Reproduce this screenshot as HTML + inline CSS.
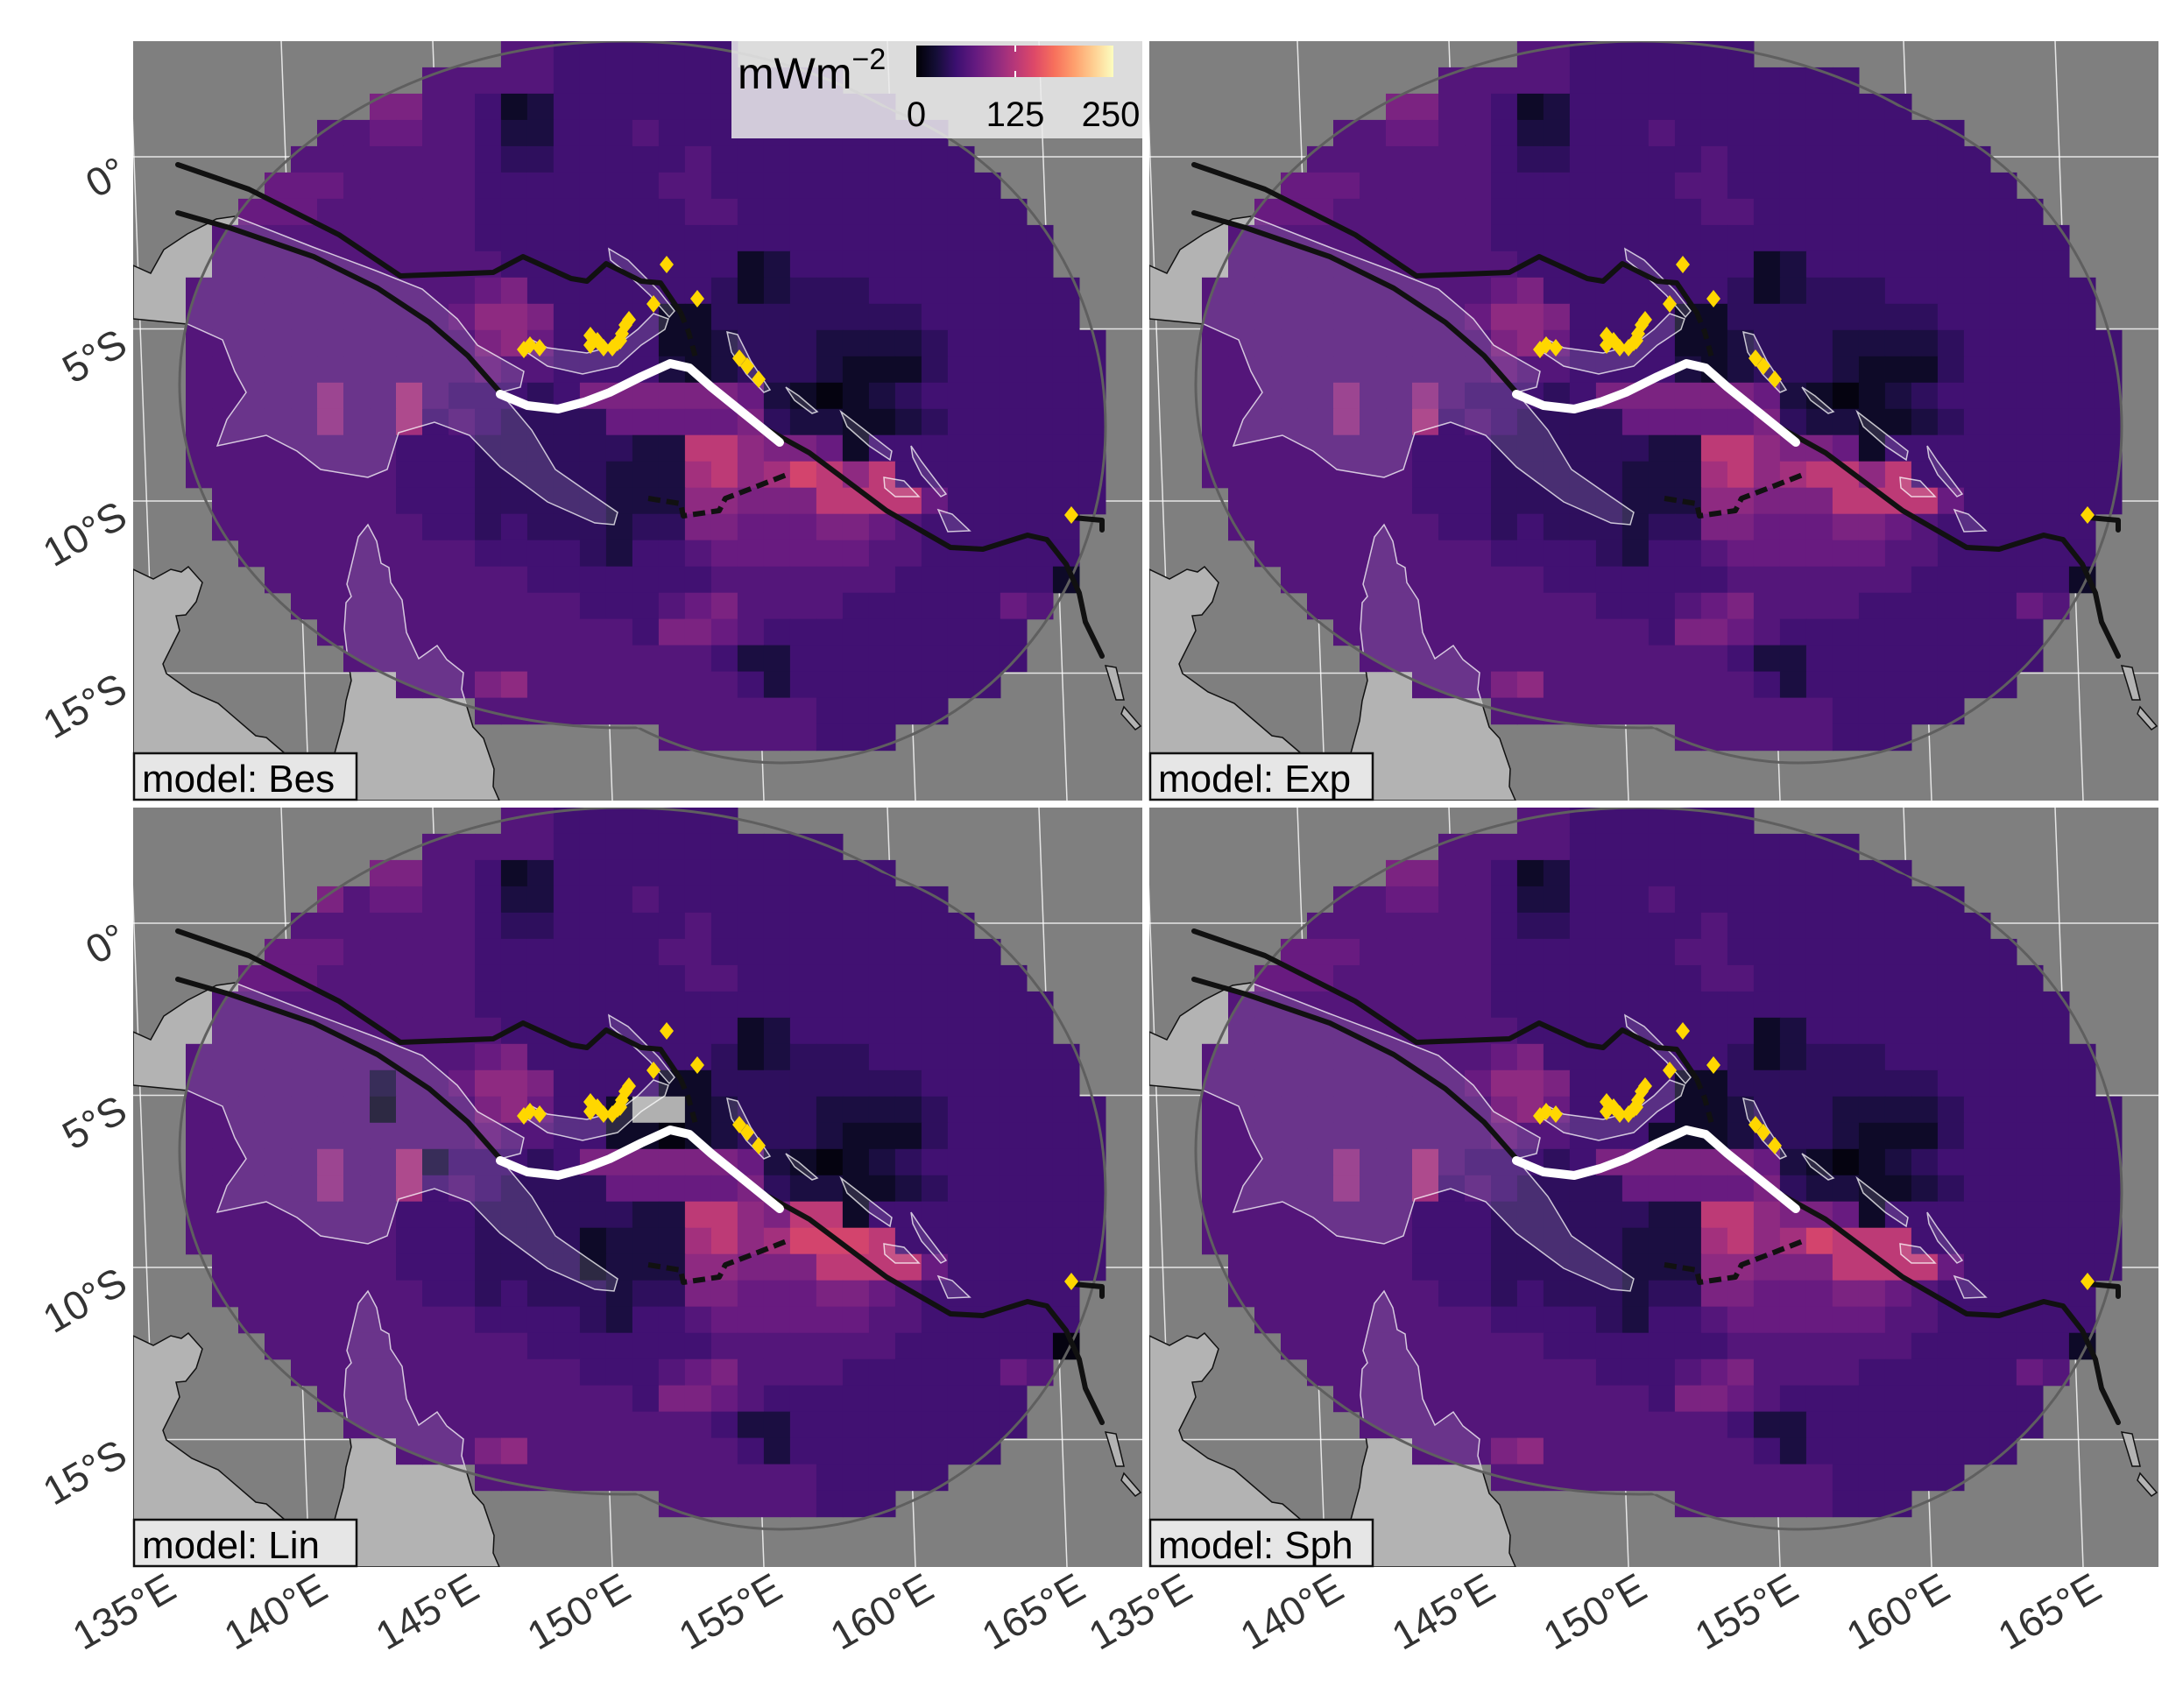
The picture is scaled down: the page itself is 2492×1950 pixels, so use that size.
<!DOCTYPE html>
<html><head><meta charset="utf-8"><title>Heat flow models</title>
<style>html,body{margin:0;padding:0;background:#fff}svg{display:block}text{font-family:"Liberation Sans",Arial,sans-serif}</style>
</head><body>
<svg id="chart" xmlns="http://www.w3.org/2000/svg" width="2492" height="1950" viewBox="0 0 2492 1950">
<rect x="0" y="0" width="2492" height="1950" fill="#ffffff"/>
<defs>
<clipPath id="panelClip"><rect x="0" y="0" width="1152" height="867"/></clipPath>
<clipPath id="maskClip"><ellipse cx="560" cy="392" rx="507" ry="392"/><ellipse cx="741" cy="440" rx="369" ry="384"/></clipPath>
<mask id="outsideB"><rect x="-50" y="-50" width="1300" height="1000" fill="#fff"/><ellipse cx="741" cy="440" rx="369" ry="384" fill="#000"/></mask>
<mask id="outsideA"><rect x="-50" y="-50" width="1300" height="1000" fill="#fff"/><ellipse cx="560" cy="392" rx="507" ry="392" fill="#000"/></mask>
<linearGradient id="magmaGrad" x1="0" x2="1" y1="0" y2="0">
<stop offset="0" stop-color="#000004"/><stop offset="0.1" stop-color="#140e36"/><stop offset="0.2" stop-color="#3b0f70"/><stop offset="0.3" stop-color="#641a80"/><stop offset="0.4" stop-color="#8c2981"/><stop offset="0.5" stop-color="#b73779"/><stop offset="0.6" stop-color="#de4968"/><stop offset="0.7" stop-color="#f7705c"/><stop offset="0.8" stop-color="#fe9f6d"/><stop offset="0.9" stop-color="#fecf92"/><stop offset="1" stop-color="#fcfdbf"/>
</linearGradient>
</defs>
<g id="panels"></g>
<g id="legend">
<rect x="835" y="47" width="469" height="111" fill="rgba(236,236,236,0.85)"/>
<text x="842" y="101" font-size="50" fill="#000">mWm<tspan dy="-22" font-size="34">−2</tspan></text>
<rect x="1046" y="52" width="225" height="36" fill="url(#magmaGrad)"/>
<line x1="1159" y1="52" x2="1159" y2="59" stroke="#fff" stroke-width="2"/>
<line x1="1159" y1="81" x2="1159" y2="88" stroke="#fff" stroke-width="2"/>
<text x="1046" y="144" font-size="40" text-anchor="middle" fill="#000">0</text>
<text x="1159" y="144" font-size="40" text-anchor="middle" fill="#000">125</text>
<text x="1268" y="144" font-size="40" text-anchor="middle" fill="#000">250</text>
</g>
<g id="axes"></g>
</svg>
<script>
const models = ['Bes','Exp','Lin','Sph'];
const latTicks = [0,-5,-10,-15];
const latTickLabels = ['0°','5°S','10°S','15°S'];
const lonTicks = [135,140,145,150,155,160,165];
const lonTickLabels = ['135°E','140°E','145°E','150°E','155°E','160°E','165°E'];
const rowsBes = [
"55555555555555554444444444444444444444",
"55555555555555554444444444444444444444",
"55555555577554124444444444444444444444",
"55555555566554224445444444444444444444",
"55555555555554334444454444444444444444",
"55566666555554444444554444444444444444",
"55566665555554444444455444444444444444",
"55555555555554444444444444444444444444",
"55555555555555444444444124444444444444",
"55555555555556744444443123334444444444",
"55555555555568874444113333333344444444",
"55555555555557864444112333222234444444",
"55555555555556554444212333211134444444",
"55555558559544434777777621012344444444",
"55555558559454333366666732211234444444",
"555555555544433333322aa877614444444444",
"5555555555444333332229a89ba8a444444444",
"55555555554443333322288777aaaa64444444",
"55555555555443433323377666776544444444",
"55555555555554444324456666665544444444",
"55555555555555544444445555555444444144",
"55555555555555555444567555544444465444",
"55555555555555555554776544444444441444",
"55555555555555555555554224444444444444",
"55555555555557855555555424444444444444",
"55555555555555555555555555444444444444",
"55555555555555555555555555444444444444",
"55555555555555555555555555444444444444",
"55555555555555555555555555444444444444"
];
const overridesExp = [[13,10,'8'],[16,25,'a'],[9,13,'6']];
const overridesLin = [[11,19,'n'],[11,20,'n'],[12,19,'1'],[12,20,'0'],[12,18,'1'],[11,18,'1'],[11,9,'1'],[10,9,'2'],[15,25,'a'],[15,26,'a'],[16,27,'b'],[16,28,'a'],[17,29,'a'],[16,26,'b'],[20,35,'0'],[16,17,'1'],[17,17,'1'],[3,7,'7'],[13,11,'2']];
const overridesSph = [[12,19,'1'],[12,20,'1'],[16,27,'a'],[17,28,'a']];
const overrides = {Bes:[], Exp:overridesExp, Lin:overridesLin, Sph:overridesSph};

const NS='http://www.w3.org/2000/svg';
const PW=1152, PH=867;
const panelPos = [[152,47],[1312,47],[152,922],[1312,922]];
const LAT_BOTTOM=-18.7, LAT_TOP=3.36;
function xProj(lon,lat){return 547+(lon-150)*34.6-1.45*(lat-LAT_BOTTOM);}
function yProj(lat){return 132-lat*39.3;}
function xCell(lon){return 547+(lon-150)*34.6;}
const lonStart=134.19, dLon=0.867, dLat=0.763;
const vmax=252;
const magma=['#000004','#140e36','#3b0f70','#641a80','#8c2981','#b73779','#de4968','#f7705c','#fe9f6d','#fecf92','#fcfdbf'];
function hex(c){return [parseInt(c.slice(1,3),16),parseInt(c.slice(3,5),16),parseInt(c.slice(5,7),16)];}
function color(v){let t=Math.max(0,Math.min(1,v/vmax))*10;let i=Math.min(9,Math.floor(t));let f=t-i;let a=hex(magma[i]),b=hex(magma[i+1]);return 'rgb('+a.map((x,k)=>Math.round(x+(b[k]-x)*f)).join(',')+')';}
function level(ch){const d=parseInt(ch,16);if(d===10)return 130;if(d===11)return 144;return d*12+6;}
function inMask(x,y){const a=((x-560)/507)**2+((y-392)/392)**2;const b=((x-741)/369)**2+((y-440)/384)**2;return a<=1||b<=1;}
function el(tag,attrs){const e=document.createElementNS(NS,tag);for(const k in attrs)e.setAttribute(k,attrs[k]);return e;}
function pts(a){return a.map(p=>p.join(',')).join(' ');}

const landNG=[[0,256],[20,265],[35,238],[62,220],[95,203],[116,200],[205,235],[277,262],[330,283],[370,317],[393,347],[446,377],[442,395],[419,401],[455,444],[482,489],[518,514],[553,538],[549,552],[527,550],[473,526],[419,486],[384,450],[344,435],[303,447],[290,489],[268,498],[214,489],[187,468],[152,450],[96,462],[107,432],[129,401],[116,377],[102,341],[62,323],[0,317]];
const landAus=[[0,603],[23,614],[43,603],[55,606],[63,600],[79,618],[72,640],[60,655],[49,656],[53,673],[34,711],[38,722],[67,743],[97,756],[140,793],[152,795],[173,813],[200,830],[230,813],[240,776],[243,753],[249,730],[245,705],[241,671],[243,641],[249,634],[244,620],[257,566],[268,552],[278,571],[283,596],[292,601],[294,618],[307,638],[312,675],[326,705],[347,690],[358,706],[377,721],[375,740],[388,783],[400,796],[412,831],[411,851],[418,867],[0,867]];
const islands=[
[[446,353],[473,371],[513,380],[553,371],[580,347],[607,329],[611,317],[594,311],[576,329],[553,347],[518,356],[473,350],[455,341]],
[[543,237],[565,250],[600,285],[618,308],[612,315],[590,290],[560,262],[545,250]],
[[678,332],[690,335],[705,365],[727,398],[720,401],[700,380],[683,355]],
[[745,395],[760,405],[781,423],[775,425],[755,410]],
[[808,423],[830,440],[866,468],[864,478],[840,462],[815,440]],
[[888,462],[900,480],[928,517],[922,520],[900,495],[890,475]],
[[857,498],[880,502],[897,520],[870,520],[858,510]],
[[919,535],[935,540],[955,559],[930,560]],
[[1110,713],[1122,715],[1131,752],[1122,752]],
[[1131,760],[1150,782],[1144,786],[1128,768]]
];
const lineA=[[51,141],[132,169],[235,221],[305,268],[411,264],[445,246],[500,271],[518,274],[540,254],[580,274],[602,276],[625,310]];
const lineAdash=[[625,310],[634,332],[643,365]];
const lineB=[[51,196],[110,213],[206,246],[279,282],[338,321],[382,359],[419,401]];
const lineWhite=[[419,403],[450,416],[485,420],[515,412],[544,401],[580,383],[613,368],[635,373],[660,395],[691,420],[738,458]];
const lineC=[[716,439],[772,470],[816,503],[860,536],[933,578],[970,580],[1021,564],[1043,569],[1065,597],[1080,630],[1087,663],[1106,702]];
const lineDash=[[588,522],[625,528],[628,542],[669,536],[676,522],[705,511],[746,495]];
const lineR=[[1073,544],[1106,547],[1106,558]];
const diamonds=[[609,255],[644,294],[594,300],[562,324],[566,318],[558,334],[553,344],[556,342],[547,350],[537,350],[522,336],[522,347],[530,342],[453,347],[464,350],[446,352],[692,362],[701,371],[714,386],[1071,541]];

const panelsG=document.getElementById('panels');
models.forEach((m,pi)=>{
  const [px,py]=panelPos[pi];
  const g=el('g',{transform:'translate('+px+','+py+')'});
  
  
  const inner=el('g',{'clip-path':'url(#panelClip)'});
  const bg=el('rect',{x:0,y:0,width:PW,height:PH,fill:'#7f7f7f'});
  
  
  inner.appendChild(bg);
  latTicks.forEach(lat=>{const y=yProj(lat);const l=el('line',{x1:0,y1:y,x2:PW,y2:y,stroke:'#ffffff','stroke-width':1.5,opacity:0.8});
    
    
    inner.appendChild(l);});
  lonTicks.forEach(lon=>{const l=el('line',{x1:xProj(lon,LAT_TOP),y1:0,x2:xProj(lon,LAT_BOTTOM),y2:PH,stroke:'#ffffff','stroke-width':1.5,opacity:0.8});
    
    
    inner.appendChild(l);});
  [landNG,landAus].concat(islands).forEach(poly=>{const p=el('polygon',{points:pts(poly),fill:'#b3b3b3',stroke:'#111','stroke-width':1.5});
    
    
    inner.appendChild(p);});
  const rows=rowsBes.map(r=>r.split(''));
  overrides[m].forEach(o=>{rows[o[0]][o[1]]=o[2];});
  const hm=el('g',{});
  
  
  rows.forEach((row,r)=>{const lat=LAT_TOP-r*dLat;const y0=yProj(lat);const y1=yProj(lat-dLat);
    row.forEach((ch,c)=>{const lon=lonStart+c*dLon;const x0=xCell(lon);const x1=xCell(lon+dLon);
      const cx=(x0+x1)/2, cy=(y0+y1)/2;
      if(!inMask(cx,cy))return;
      const fill= ch==='n' ? '#b0b0b0' : color(level(ch));
      const rc=el('rect',{x:x0.toFixed(1),y:y0.toFixed(1),width:(x1-x0+0.6).toFixed(1),height:(y1-y0+0.6).toFixed(1),fill:fill});
      
      
      hm.appendChild(rc);});});
  inner.appendChild(hm);
  const ov=el('g',{'clip-path':'url(#maskClip)'});
  
  
  [landNG,landAus].concat(islands).forEach(poly=>{const p=el('polygon',{points:pts(poly),fill:'rgba(255,255,255,0.13)',stroke:'rgba(255,255,255,0.75)','stroke-width':1.5});
    
    
    ov.appendChild(p);});
  inner.appendChild(ov);
  const eA=el('ellipse',{cx:560,cy:392,rx:507,ry:392,fill:'none',stroke:'#5f5f5f','stroke-width':3,mask:'url(#outsideB)'});
  
  
  inner.appendChild(eA);
  const eB=el('ellipse',{cx:741,cy:440,rx:369,ry:384,fill:'none',stroke:'#5f5f5f','stroke-width':3,mask:'url(#outsideA)'});
  
  
  inner.appendChild(eB);
  const addLine=(arr,stroke,w,dash,name)=>{const l=el('polyline',{points:pts(arr),fill:'none',stroke:stroke,'stroke-width':w,'stroke-linejoin':'round','stroke-linecap':dash?'butt':'round'});if(dash)l.setAttribute('stroke-dasharray',dash);
    
    
    inner.appendChild(l);};
  addLine(lineA,'#111',6,null,'plate-boundary');
  addLine(lineAdash,'#111',6,'12 8','plate-boundary-dashed');
  addLine(lineB,'#111',6,null,'plate-boundary');
  addLine(lineC,'#111',6,null,'plate-boundary');
  addLine(lineDash,'#111',6,'14 7','plate-boundary-dashed');
  addLine(lineR,'#111',6,null,'plate-boundary');
  addLine(lineWhite,'#ffffff',10,null,'segment-line');
  diamonds.forEach(d=>{const p=el('polygon',{points:pts([[d[0],d[1]-10],[d[0]+8,d[1]],[d[0],d[1]+10],[d[0]-8,d[1]]]),fill:'#FFD700'});
    
    
    inner.appendChild(p);});
  g.appendChild(inner);
  const sb=el('rect',{x:1,y:813,width:254,height:53,fill:'#e6e6e6',stroke:'#111','stroke-width':2.5});
  
  
  g.appendChild(sb);
  const st=el('text',{x:10,y:857,'font-size':44,fill:'#000'});
  st.textContent='model: '+m;
  
  
  g.appendChild(st);
  panelsG.appendChild(g);
});
const axesG=document.getElementById('axes');
[47,922].forEach(py=>{latTicks.forEach((lat,i)=>{const x=148,y=py+yProj(lat)+26;
  const t=el('text',{x:x,y:y,'font-size':46,fill:'#333','text-anchor':'end',transform:'rotate(-30 '+x+' '+y+')'});
  t.textContent=latTickLabels[i];
  
  
  axesG.appendChild(t);});});
[152,1312].forEach(px=>{lonTicks.forEach((lon,i)=>{const x=px+xProj(lon,LAT_BOTTOM)+24,y=1822;
  const t=el('text',{x:x,y:y,'font-size':46,fill:'#333','text-anchor':'end',transform:'rotate(-30 '+x+' '+y+')'});
  t.textContent=lonTickLabels[i];
  
  
  axesG.appendChild(t);});});
</script>
</body></html>
